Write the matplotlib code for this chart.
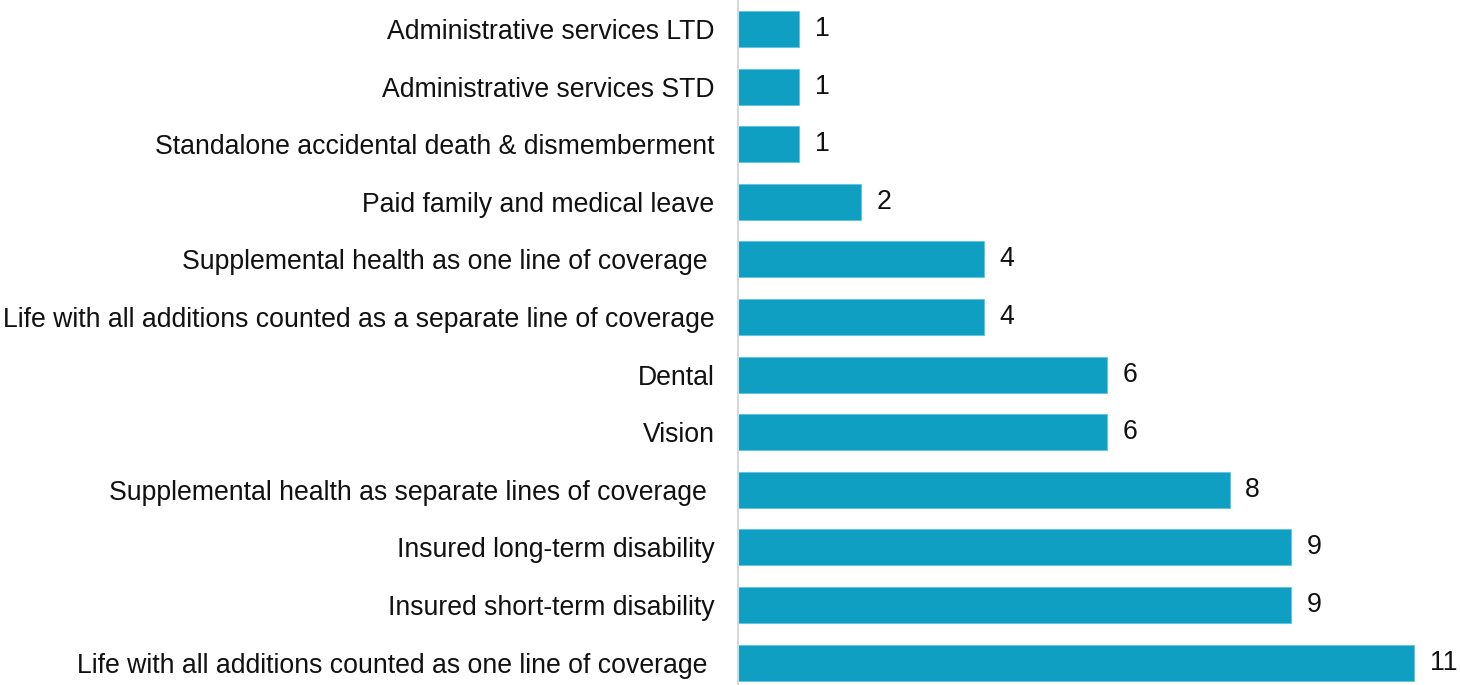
import matplotlib
matplotlib.use('Agg')
import matplotlib.pyplot as plt

plt.rcParams['font.family'] = ['Liberation Sans', 'DejaVu Sans']

# coverage lines, top to bottom
categories = [
    'Administrative services LTD',
    'Administrative services STD',
    'Standalone accidental death & dismemberment',
    'Paid family and medical leave',
    'Supplemental health as one line of coverage ',
    'Life with all additions counted as a separate line of coverage',
    'Dental',
    'Vision',
    'Supplemental health as separate lines of coverage ',
    'Insured long-term disability',
    'Insured short-term disability',
    'Life with all additions counted as one line of coverage ',
]
counts = [1, 1, 1, 2, 4, 4, 6, 6, 8, 9, 9, 11]

bar_color = '#0E9FC2'
fs = 19.2

fig = plt.figure(figsize=(14.6, 6.85), dpi=100)
ax = fig.add_axes([738 / 1460, 0, 1 - 738 / 1460, 1])

ypos = list(range(len(categories)))
ax.barh(ypos, counts, height=0.625, color=bar_color, edgecolor='#5cc6de', linewidth=0.6)

for y, v in zip(ypos, counts):
    ax.text(v + 0.25, y, str(v), va='center', ha='left', fontsize=fs, color='#111111')

ax.set_xlim(0, 11.74)
ax.set_ylim(11.39, -0.503)
ax.set_yticks(ypos)
ax.set_yticklabels(categories, fontsize=fs, color='#111111')
ax.tick_params(axis='y', length=0, pad=17)
ax.set_xticks([])

for s in ['top', 'right', 'bottom']:
    ax.spines[s].set_visible(False)
ax.spines['left'].set_color('#d9d9d9')
ax.spines['left'].set_linewidth(1.5)

fig.savefig('out.png', dpi=100)
